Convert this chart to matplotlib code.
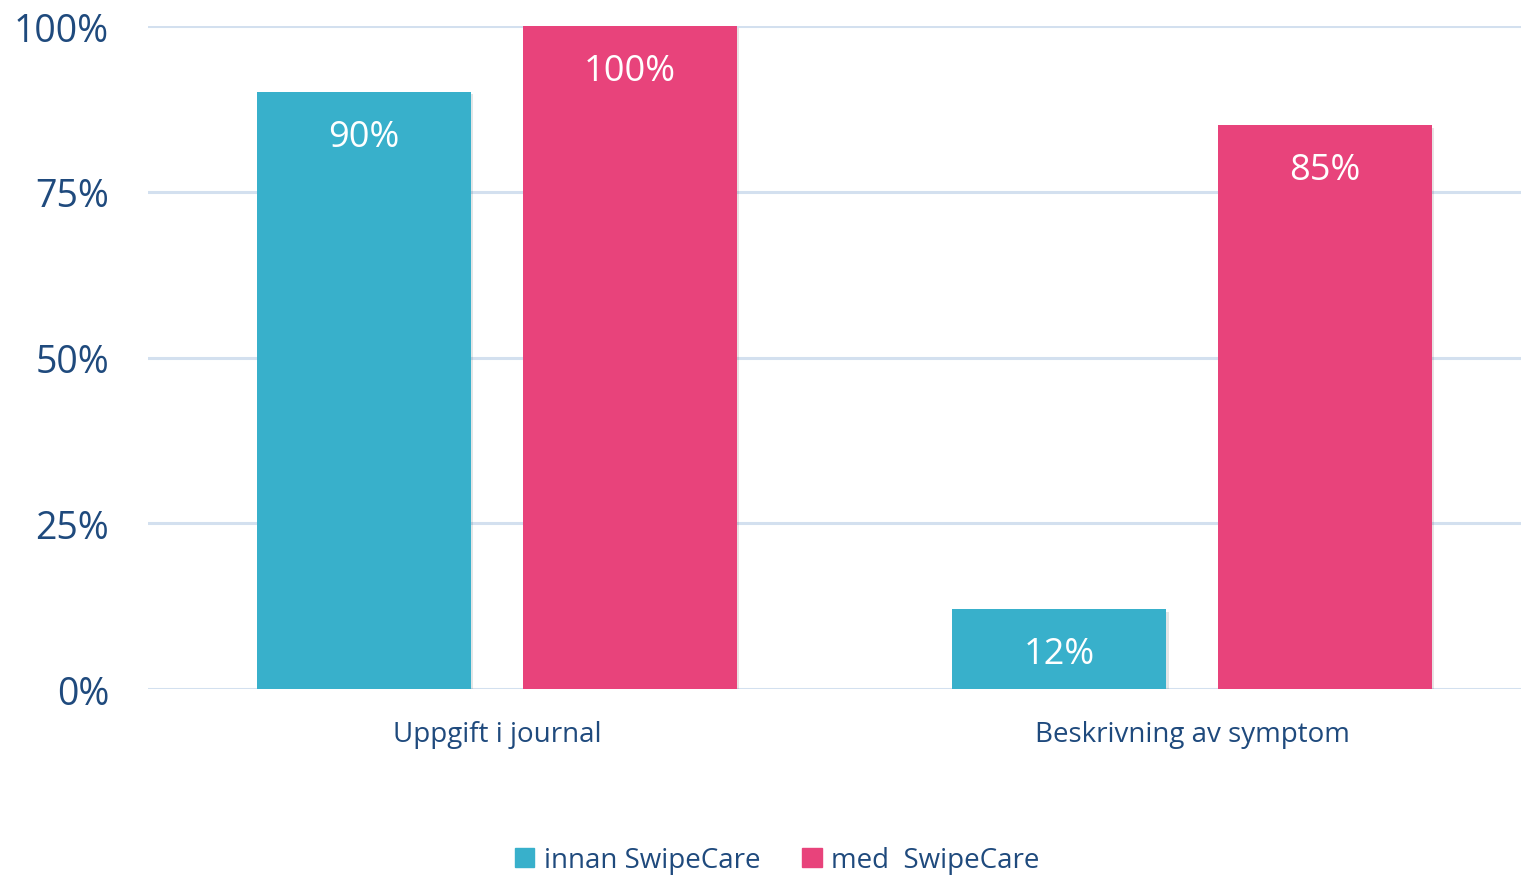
import matplotlib
matplotlib.use("Agg")
from matplotlib import pyplot as plt
from matplotlib import patheffects as pe
from matplotlib.patches import Patch
import numpy as np

categories = ["Uppgift i journal", "Beskrivning av symptom"]
innan = [90, 12]
med = [100, 85]
series_names = ["innan SwipeCare", "med  SwipeCare"]
y_ticks = [0, 25, 50, 75, 100]

teal = "#38B0CB"
pink = "#E8437B"
text_col = "#1F4A7D"
grid_col = "#D3E0EF"

plt.rcParams["font.family"] = ["Open Sans", "DejaVu Sans"]

fig = plt.figure(figsize=(15.21, 8.78), dpi=100)
ax = fig.add_axes([0.0973, 0.2141, 0.9027, 0.7551])

x = np.arange(len(categories))
w = 0.308
off = 0.191
shadow = [pe.SimplePatchShadow(offset=(1.5, -1.5), alpha=0.12), pe.Normal()]

b1 = ax.bar(x - off, innan, w, color=teal, zorder=3, path_effects=shadow)
b2 = ax.bar(x + off, med, w, color=pink, zorder=3, path_effects=shadow)

for bars, vals in [(b1, innan), (b2, med)]:
    for rect, v in zip(bars, vals):
        ax.annotate(f"{v}%", (rect.get_x() + rect.get_width() / 2, v),
                    xytext=(0, -45), textcoords="offset pixels",
                    ha="center", va="center", color="white", fontsize=26, zorder=4)

ax.set_xlim(-0.502, 1.473)
ax.set_ylim(0, 100)
ax.set_yticks(y_ticks)
ax.set_yticklabels([f"{t}%" for t in y_ticks])
ax.set_xticks(x)
ax.set_xticklabels(categories)
ax.tick_params(axis="y", length=0, pad=28, labelsize=27, labelcolor=text_col)
ax.tick_params(axis="x", length=0, pad=22, labelsize=20, labelcolor=text_col)
ax.yaxis.grid(True, color=grid_col, linewidth=2.2, zorder=0)
ax.set_axisbelow(True)
for s in ax.spines.values():
    s.set_visible(False)

handles = [Patch(color=teal), Patch(color=pink)]
fig.legend(handles, series_names, loc="center", bbox_to_anchor=(0.511, 0.019),
           ncol=2, frameon=False, fontsize=20, labelcolor=text_col,
           handlelength=0.7, handleheight=0.7, handletextpad=0.35, columnspacing=1.5)

fig.savefig("out.png", dpi=100)
